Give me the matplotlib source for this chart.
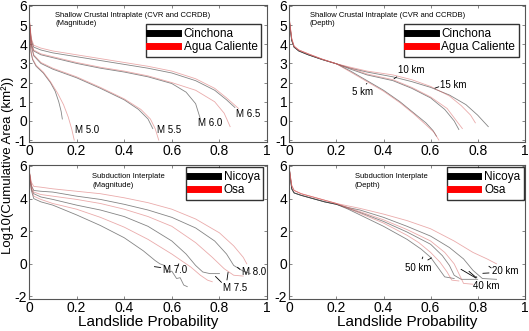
import matplotlib
matplotlib.use("Agg")
import matplotlib.pyplot as plt
from matplotlib.lines import Line2D

plt.rcParams["font.family"] = ["Liberation Sans", "DejaVu Sans"]
plt.rcParams["axes.unicode_minus"] = False

# ---------------------------------------------------------------------------
# Data (landslide probability vs log10 cumulative area)
# ---------------------------------------------------------------------------
# Shallow crustal, magnitude: M5.0, M5.5, M6.0, M6.5
mag_cin_x = [
    [0, 0.004, 0.008, 0.015, 0.03, 0.06, 0.09, 0.11, 0.125, 0.135, 0.14],
    [0, 0.005, 0.01, 0.02, 0.05, 0.1, 0.2, 0.3, 0.4, 0.46, 0.5, 0.52],
    [0, 0.005, 0.01, 0.02, 0.05, 0.1, 0.2, 0.3, 0.4, 0.5, 0.6, 0.66, 0.7, 0.72],
    [0, 0.005, 0.01, 0.02, 0.05, 0.1, 0.2, 0.3, 0.4, 0.5, 0.6, 0.7, 0.78, 0.83, 0.865],
]
mag_cin_y = [
    [5.3, 4.5, 3.6, 3.2, 2.85, 2.5, 2.0, 1.55, 1.0, 0.5, 0.1],
    [5.3, 4.6, 3.9, 3.4, 3.0, 2.7, 2.25, 1.7, 1.1, 0.6, 0.1, -0.4],
    [5.4, 4.7, 4.0, 3.65, 3.45, 3.3, 3.0, 2.75, 2.55, 2.3, 1.95, 1.5, 0.9, 0.1],
    [5.4, 4.8, 4.2, 3.85, 3.7, 3.55, 3.35, 3.15, 2.95, 2.75, 2.5, 2.1, 1.6, 1.1, 0.7],
]
mag_agua_x = [
    [0, 0.004, 0.008, 0.015, 0.03, 0.06, 0.09, 0.12, 0.145, 0.165, 0.18, 0.19],
    [0, 0.005, 0.01, 0.02, 0.05, 0.1, 0.2, 0.3, 0.4, 0.47, 0.51, 0.53, 0.545],
    [0, 0.005, 0.01, 0.02, 0.05, 0.1, 0.2, 0.3, 0.4, 0.5, 0.6, 0.7, 0.78, 0.82, 0.845],
    [0, 0.005, 0.01, 0.02, 0.05, 0.1, 0.2, 0.3, 0.4, 0.5, 0.6, 0.7, 0.78, 0.83, 0.88],
]
mag_agua_y = [
    [5.4, 4.6, 3.7, 3.25, 2.9, 2.55, 2.05, 1.45, 0.85, 0.2, -0.45, -1.0],
    [5.4, 4.7, 4.0, 3.45, 3.05, 2.75, 2.3, 1.75, 1.15, 0.6, 0.1, -0.4, -1.0],
    [5.5, 4.8, 4.1, 3.7, 3.5, 3.35, 3.05, 2.8, 2.6, 2.35, 2.0, 1.6, 1.0, 0.4, -0.3],
    [5.5, 4.9, 4.3, 3.95, 3.8, 3.65, 3.45, 3.25, 3.05, 2.85, 2.6, 2.2, 1.7, 1.2, 0.65],
]

# Shallow crustal, depth: 5 km, 10 km, 15 km
dep_cin_x = [
    [0, 0.005, 0.01, 0.02, 0.04, 0.08, 0.14, 0.2, 0.26, 0.33, 0.4, 0.47, 0.53, 0.58, 0.61, 0.625],
    [0, 0.005, 0.01, 0.02, 0.04, 0.08, 0.14, 0.2, 0.26, 0.33, 0.44, 0.52, 0.6, 0.66, 0.7, 0.72],
    [0, 0.005, 0.01, 0.02, 0.04, 0.08, 0.14, 0.2, 0.26, 0.33, 0.44, 0.52, 0.6, 0.68, 0.75, 0.8, 0.845],
]
dep_cin_y = [
    [5.2, 4.7, 4.2, 3.85, 3.65, 3.45, 3.2, 2.98, 2.6, 2.1, 1.6, 1.0, 0.4, -0.1, -0.5, -0.8],
    [5.2, 4.7, 4.2, 3.85, 3.65, 3.45, 3.2, 2.98, 2.7, 2.4, 2.1, 1.7, 1.2, 0.6, 0.0, -0.45],
    [5.2, 4.7, 4.2, 3.85, 3.65, 3.45, 3.2, 2.98, 2.75, 2.55, 2.3, 2.05, 1.75, 1.35, 0.85, 0.3, -0.3],
]
dep_agua_x = [
    [0, 0.005, 0.01, 0.02, 0.04, 0.08, 0.14, 0.2, 0.26, 0.33, 0.4, 0.47, 0.53, 0.58, 0.615, 0.635],
    [0, 0.005, 0.01, 0.02, 0.04, 0.08, 0.14, 0.2, 0.26, 0.33, 0.44, 0.52, 0.6, 0.67, 0.71, 0.735],
    [0, 0.005, 0.01, 0.02, 0.04, 0.08, 0.14, 0.2, 0.26, 0.33, 0.44, 0.52, 0.6, 0.68, 0.73, 0.77, 0.79],
]
dep_agua_y = [
    [5.3, 4.8, 4.3, 3.9, 3.7, 3.5, 3.22, 2.98, 2.55, 2.05, 1.55, 0.95, 0.35, -0.2, -0.6, -1.0],
    [5.3, 4.8, 4.3, 3.9, 3.7, 3.5, 3.22, 2.98, 2.75, 2.45, 2.15, 1.75, 1.25, 0.65, 0.0, -0.4],
    [5.3, 4.8, 4.3, 3.9, 3.7, 3.5, 3.22, 2.98, 2.8, 2.6, 2.4, 2.15, 1.8, 1.3, 0.8, 0.3, -0.1],
]

# Subduction interplate, magnitude: M7.0, M7.5, M8.0
sub_mag_nic_x = [
    [0, 0.005, 0.01, 0.02, 0.05, 0.1, 0.2, 0.3, 0.4, 0.48, 0.53, 0.55, 0.57, 0.585, 0.6, 0.62, 0.635, 0.65, 0.665],
    [0, 0.005, 0.01, 0.02, 0.05, 0.1, 0.2, 0.3, 0.4, 0.5, 0.6, 0.66, 0.7, 0.73, 0.76, 0.8],
    [0, 0.005, 0.01, 0.02, 0.05, 0.1, 0.2, 0.3, 0.4, 0.5, 0.6, 0.7, 0.78, 0.83, 0.86, 0.9, 0.93],
]
sub_mag_nic_y = [
    [5.8, 5.2, 4.5, 4.0, 3.8, 3.6, 3.0, 2.35, 1.6, 0.8, 0.2, 0.0, -0.1, -0.5, -0.45, -0.9, -0.85, -1.3, -1.4],
    [5.8, 5.2, 4.6, 4.3, 4.1, 3.95, 3.6, 3.3, 2.9, 2.3, 1.4, 0.6, -0.1, -0.5, -0.6, -0.6],
    [5.8, 5.3, 4.8, 4.5, 4.45, 4.4, 4.15, 3.95, 3.65, 3.3, 2.85, 2.2, 1.4, 0.6, -0.1, -0.45, -0.6],
]
sub_mag_osa_x = [
    [0, 0.005, 0.01, 0.02, 0.05, 0.1, 0.2, 0.3, 0.4, 0.5, 0.6, 0.68, 0.72, 0.75, 0.77],
    [0, 0.005, 0.01, 0.02, 0.05, 0.1, 0.2, 0.3, 0.4, 0.5, 0.6, 0.7, 0.77, 0.82, 0.86, 0.9],
    [0, 0.005, 0.01, 0.02, 0.05, 0.1, 0.2, 0.3, 0.4, 0.5, 0.6, 0.7, 0.8, 0.86, 0.9, 0.915],
]
sub_mag_osa_y = [
    [5.8, 5.2, 4.6, 4.15, 3.95, 3.7, 3.35, 2.85, 2.25, 1.5, 0.6, -0.2, -0.7, -1.0, -1.1],
    [5.8, 5.3, 4.8, 4.4, 4.25, 4.15, 3.95, 3.7, 3.35, 2.9, 2.3, 1.3, 0.4, -0.3, -0.7, -0.75],
    [5.8, 5.4, 5.0, 4.75, 4.7, 4.6, 4.45, 4.3, 4.05, 3.75, 3.35, 2.75, 1.9, 1.1, 0.4, 0.0],
]

# Subduction interplate, depth: 20 km, 40 km, 50 km
sub_dep_nic_x = [
    [0, 0.005, 0.01, 0.02, 0.05, 0.1, 0.15, 0.2, 0.25, 0.3, 0.4, 0.5, 0.6, 0.68, 0.74, 0.78, 0.82, 0.88],
    [0, 0.005, 0.01, 0.02, 0.05, 0.1, 0.15, 0.2, 0.25, 0.3, 0.4, 0.5, 0.6, 0.65, 0.68, 0.7, 0.73, 0.8],
    [0, 0.005, 0.01, 0.02, 0.05, 0.1, 0.15, 0.2, 0.25, 0.3, 0.4, 0.5, 0.56, 0.6, 0.63, 0.66, 0.7],
]
sub_dep_nic_y = [
    [5.8, 5.2, 4.6, 4.35, 4.2, 4.0, 3.8, 3.65, 3.45, 3.3, 2.85, 2.3, 1.7, 1.0, 0.3, -0.4, -0.9, -0.95],
    [5.8, 5.2, 4.6, 4.35, 4.2, 4.0, 3.8, 3.65, 3.4, 3.15, 2.6, 1.95, 1.2, 0.5, -0.1, -0.7, -0.95, -0.95],
    [5.8, 5.2, 4.6, 4.35, 4.2, 4.0, 3.8, 3.65, 3.35, 3.0, 2.3, 1.5, 0.9, 0.4, -0.2, -0.8, -0.9],
]
sub_dep_osa_x = [
    [0, 0.005, 0.01, 0.02, 0.05, 0.1, 0.15, 0.2, 0.25, 0.3, 0.4, 0.5, 0.6, 0.7, 0.78, 0.84, 0.88],
    [0, 0.005, 0.01, 0.02, 0.05, 0.1, 0.15, 0.2, 0.25, 0.3, 0.4, 0.5, 0.6, 0.66, 0.7, 0.72, 0.74, 0.78],
    [0, 0.005, 0.01, 0.02, 0.05, 0.1, 0.15, 0.2, 0.25, 0.3, 0.4, 0.5, 0.55, 0.6, 0.64, 0.67, 0.69, 0.72],
]
sub_dep_osa_y = [
    [5.8, 5.3, 4.8, 4.5, 4.3, 4.1, 3.9, 3.7, 3.55, 3.4, 3.05, 2.65, 2.15, 1.4, 0.7, 0.3, 0.0],
    [5.8, 5.3, 4.8, 4.5, 4.3, 4.1, 3.9, 3.7, 3.45, 3.2, 2.7, 2.1, 1.4, 0.7, 0.0, -0.6, -1.2, -1.25],
    [5.8, 5.3, 4.8, 4.5, 4.3, 4.1, 3.9, 3.7, 3.4, 3.1, 2.5, 1.75, 1.3, 0.7, 0.1, -0.5, -1.0, -1.05],
]

x_ticks = [0, 0.2, 0.4, 0.6, 0.8, 1]
x_ticklabels = ["0", "0.2", "0.4", "0.6", "0.8", "1"]

BLACK = (0.2, 0.2, 0.2, 0.6)
RED = (0.85, 0.4, 0.4, 0.55)


def draw_panel(ax, bx, by, rx, ry, names, title, ylim, yticks, labels):
    for x, y in zip(bx, by):
        ax.plot(x, y, color=BLACK, lw=0.6)
    for x, y in zip(rx, ry):
        ax.plot(x, y, color=RED, lw=0.6)
    ax.set_xlim(0, 1)
    ax.set_ylim(*ylim)
    ax.set_xticks(x_ticks)
    ax.set_xticklabels(x_ticklabels)
    ax.set_yticks(yticks)
    ax.tick_params(direction="in", top=True, right=True, labelsize=10,
                   length=2.5, width=0.5, pad=1.5, colors="#555555",
                   labelcolor="black")
    for s in ax.spines.values():
        s.set_color("#555555")
        s.set_linewidth(0.8)
    ax.text(title[1], title[2], title[0], fontsize=5.5, va="top", ha="left",
            linespacing=1.3)
    handles = [Line2D([], [], color="black", lw=5),
               Line2D([], [], color="red", lw=5)]
    leg = ax.legend(handles, names, loc="upper right", bbox_to_anchor=labels[0],
                    fontsize=8.5, frameon=True, fancybox=False, edgecolor="black",
                    handlelength=2.4, handletextpad=0.5, borderpad=0.3,
                    labelspacing=0.15, borderaxespad=0)
    leg.get_frame().set_linewidth(1.0)
    for text, tx, ty, targets in labels[1]:
        ax.text(tx, ty, text, fontsize=7, ha="center", va="center")
        for (x0, y0, x1, y1) in targets:
            ax.annotate("", xy=(x1, y1), xytext=(x0, y0),
                        arrowprops=dict(arrowstyle="-", lw=0.6, color="black"))


fig = plt.figure(figsize=(5.29, 3.31), dpi=100)
ax_tl = fig.add_axes([0.0548, 0.571, 0.45, 0.414])
ax_tr = fig.add_axes([0.547, 0.571, 0.445, 0.414])
ax_bl = fig.add_axes([0.0548, 0.097, 0.45, 0.404])
ax_br = fig.add_axes([0.547, 0.097, 0.445, 0.404])

draw_panel(ax_tl, mag_cin_x, mag_cin_y, mag_agua_x, mag_agua_y,
           ["Cinchona", "Agua Caliente"],
           ("Shallow Crustal Intraplate (CVR and CCRDB)\n(Magnitude)", 0.11, 5.7),
           (-1.1, 6.05), range(-1, 7),
           ((0.975, 0.86),
            [("M 5.0", 0.245, -0.45, []),
             ("M 5.5", 0.59, -0.45, []),
             ("M 6.0", 0.76, -0.1, []),
             ("M 6.5", 0.92, 0.35, [])]))

draw_panel(ax_tr, dep_cin_x, dep_cin_y, dep_agua_x, dep_agua_y,
           ["Cinchona", "Agua Caliente"],
           ("Shallow Crustal Intraplate (CVR and CCRDB)\n(Depth)", 0.087, 5.7),
           (-1.1, 6.05), range(-1, 7),
           ((0.975, 0.86),
            [("5 km", 0.312, 1.52, [(0.319, 1.81, 0.337, 2.07)]),
             ("10 km", 0.518, 2.64, [(0.466, 2.38, 0.435, 2.12)]),
             ("15 km", 0.698, 1.88, [(0.646, 1.83, 0.607, 1.66)])]))

draw_panel(ax_bl, sub_mag_nic_x, sub_mag_nic_y, sub_mag_osa_x, sub_mag_osa_y,
           ["Nicoya", "Osa"],
           ("Subduction Interplate\n(Magnitude)", 0.265, 5.55),
           (-2.15, 6.05), range(-2, 7, 2),
           ((0.985, 0.985),
            [("M 7.0", 0.614, -0.39, [(0.565, -0.25, 0.515, -0.15),
                                     (0.62, -0.25, 0.635, 0.15)]),
             ("M 8.0", 0.947, -0.51, [(0.895, -0.45, 0.867, -0.1)]),
             ("M 7.5", 0.867, -1.46, [(0.817, -1.26, 0.775, -0.65),
                                     (0.83, -1.16, 0.838, -0.35)])]))

draw_panel(ax_br, sub_dep_nic_x, sub_dep_nic_y, sub_dep_osa_x, sub_dep_osa_y,
           ["Nicoya", "Osa"],
           ("Subduction Interplate\n(Depth)", 0.277, 5.55),
           (-2.15, 6.05), range(-2, 7, 2),
           ((0.997, 0.985),
            [("50 km", 0.548, -0.25, [(0.56, 0.15, 0.567, 0.42),
                                     (0.578, 0.15, 0.614, 0.45)]),
             ("20 km", 0.916, -0.45, [(0.867, -0.35, 0.838, -0.05),
                                     (0.86, -0.55, 0.81, -0.59)]),
             ("40 km", 0.838, -1.36, [(0.803, -0.96, 0.719, -0.25),
                                     (0.803, -0.96, 0.754, -0.35),
                                     (0.803, -0.96, 0.789, -0.65)])]))

ax_bl.set_xlabel("Landslide Probability", fontsize=11, labelpad=0)
ax_br.set_xlabel("Landslide Probability", fontsize=11, labelpad=0)
fig.text(0.0145, 0.5, "Log10(Cumulative Area (km²))", rotation=90,
         fontsize=9.5, ha="center", va="center")

fig.savefig("out.png", dpi=100)
